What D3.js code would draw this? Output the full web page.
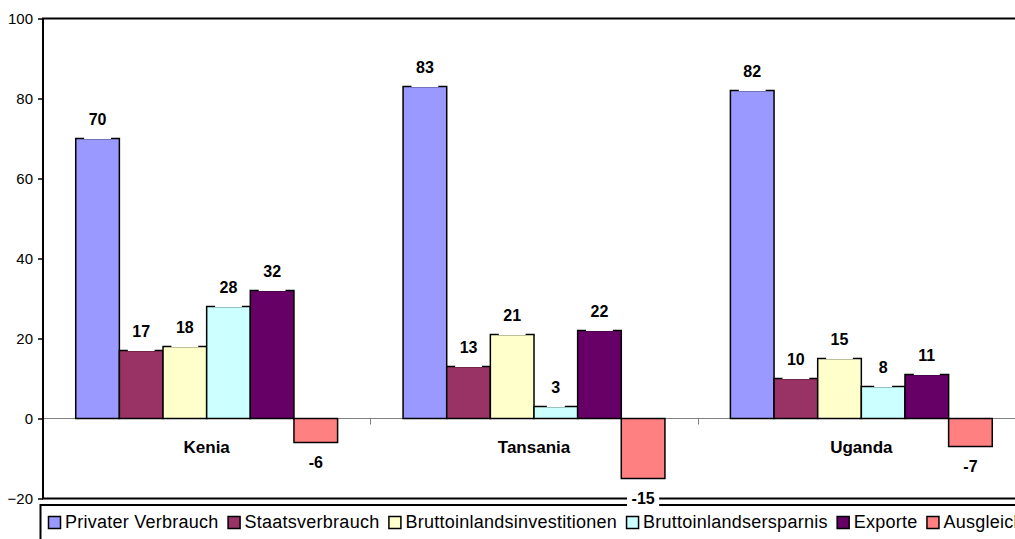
<!DOCTYPE html>
<html>
<head>
<meta charset="utf-8">
<script src="https://cdn.jsdelivr.net/npm/d3@7"></script>
<style>
  body { margin: 0; background: #fff; }
  svg { display: block; font-family: "Liberation Sans", Arial, sans-serif; }
</style>
</head>
<body>
<svg id="chart" width="1015" height="539"></svg>
<script>
const countries = ["Kenia", "Tansania", "Uganda"];
const series = ["Privater Verbrauch", "Staatsverbrauch", "Bruttoinlandsinvestitionen",
  "Bruttoinlandsersparnis", "Exporte", "Ausgleich"];
const colors = ["#9999ff", "#993366", "#ffffcc", "#ccffff", "#660066", "#ff8080"];

const kenia = [70, 17, 18, 28, 32, -6];
const tansania = [83, 13, 21, 3, 22, -15];
const uganda = [82, 10, 15, 8, 11, -7];
const values = [kenia, tansania, uganda];

const yTicks = [-20, 0, 20, 40, 60, 80, 100];

const PLOT_LEFT = 43;
const PLOT_RIGHT = 1025;
const PLOT_TOP = 18.5;
const PLOT_BOTTOM = 498.5;

const svg = d3.select('#chart');

const y = d3.scaleLinear()
  .domain([-20, 100])
  .range([PLOT_BOTTOM, PLOT_TOP]);

const x0 = d3.scaleBand()
  .domain(countries)
  .range([PLOT_LEFT, PLOT_RIGHT]);

const x1 = d3.scaleBand()
  .domain(series)
  .range([0, x0.bandwidth()])
  .paddingInner(0)
  .paddingOuter(0.75);

// zero line and category ticks
svg.append('line')
  .attr('x1', PLOT_LEFT).attr('x2', PLOT_RIGHT)
  .attr('y1', y(0)).attr('y2', y(0))
  .style('stroke', '#808080');

svg.selectAll('line.cat-tick')
  .data(countries.slice(1))
  .enter()
  .append('line')
  .attr('class', 'cat-tick')
  .attr('x1', d => Math.round(x0(d)) + 0.5)
  .attr('x2', d => Math.round(x0(d)) + 0.5)
  .attr('y1', y(0))
  .attr('y2', y(0) + 6)
  .style('stroke', '#808080');

// bars
const rows = [];
countries.forEach((c, ci) => {
  series.forEach((s, si) => {
    rows.push({ country: c, name: s, value: values[ci][si], color: colors[si] });
  });
});

svg.append('g')
  .selectAll('rect')
  .data(rows)
  .enter()
  .append('rect')
  .attr('x', d => x0(d.country) + x1(d.name))
  .attr('y', d => y(Math.max(0, d.value)))
  .attr('width', x1.bandwidth())
  .attr('height', d => Math.abs(y(d.value) - y(0)))
  .style('fill', d => d.color)
  .style('stroke', '#000')
  .style('stroke-width', 1.5);

// category labels
svg.selectAll('text.cat')
  .data(countries)
  .enter()
  .append('text')
  .attr('class', 'cat')
  .attr('x', d => x0(d) + x0.bandwidth() / 2)
  .attr('y', y(0) + 34)
  .attr('text-anchor', 'middle')
  .style('font-weight', 'bold')
  .style('font-size', '17px')
  .text(d => d);

// y axis
const yAxis = d3.axisLeft(y)
  .tickValues(yTicks)
  .tickSize(5)
  .tickPadding(5);

const ya = svg.append('g')
  .attr('transform', `translate(${PLOT_LEFT},0)`)
  .call(yAxis);
ya.select('.domain').remove();
ya.selectAll('line').style('stroke', '#000').style('stroke-width', 1.5);
ya.selectAll('text')
  .style('font-size', '15px')
  .style('font-family', '"Liberation Sans", Arial, sans-serif')
  .style('fill', '#000');

// plot border
svg.append('rect')
  .attr('x', PLOT_LEFT)
  .attr('y', PLOT_TOP)
  .attr('width', PLOT_RIGHT - PLOT_LEFT)
  .attr('height', PLOT_BOTTOM - PLOT_TOP)
  .style('fill', 'none')
  .style('stroke', '#000')
  .style('stroke-width', 2);

// legend
const legend = svg.append('g');
legend.append('rect')
  .attr('x', 40.5)
  .attr('y', 505)
  .attr('width', 1100)
  .attr('height', 60)
  .style('fill', '#fff')
  .style('stroke', '#000')
  .style('stroke-width', 2);

let lx = 48;
series.forEach((s, i) => {
  legend.append('rect')
    .attr('x', lx + 0.5)
    .attr('y', 516.5)
    .attr('width', 12)
    .attr('height', 12)
    .style('fill', colors[i])
    .style('stroke', '#000')
    .style('stroke-width', 1.5);
  const t = legend.append('text')
    .attr('x', lx + 17)
    .attr('y', 528)
    .style('font-size', '18px')
    .style('letter-spacing', '0.25px')
    .text(s);
  lx += 17 + t.node().getComputedTextLength() + 9;
});

// value labels with white boxes
const labels = svg.append('g');
rows.forEach(d => {
  const cx = x0(d.country) + x1(d.name) + x1.bandwidth() / 2;
  const base = d.value >= 0 ? y(d.value) - 14 : y(d.value) + 25;
  const t = labels.append('text')
    .attr('x', cx)
    .attr('y', base)
    .attr('text-anchor', 'middle')
    .style('font-weight', 'bold')
    .style('font-size', '16px')
    .text(d.value);
  const w = t.node().getComputedTextLength() + 9;
  const top = base - 15;
  const bottom = d.value >= 0 ? y(d.value) + 0.5 : base + 4;
  labels.insert('rect', 'text')
    .attr('x', cx - w / 2)
    .attr('y', top)
    .attr('width', w)
    .attr('height', bottom - top)
    .style('fill', '#fff');
});
</script>
</body>
</html>
